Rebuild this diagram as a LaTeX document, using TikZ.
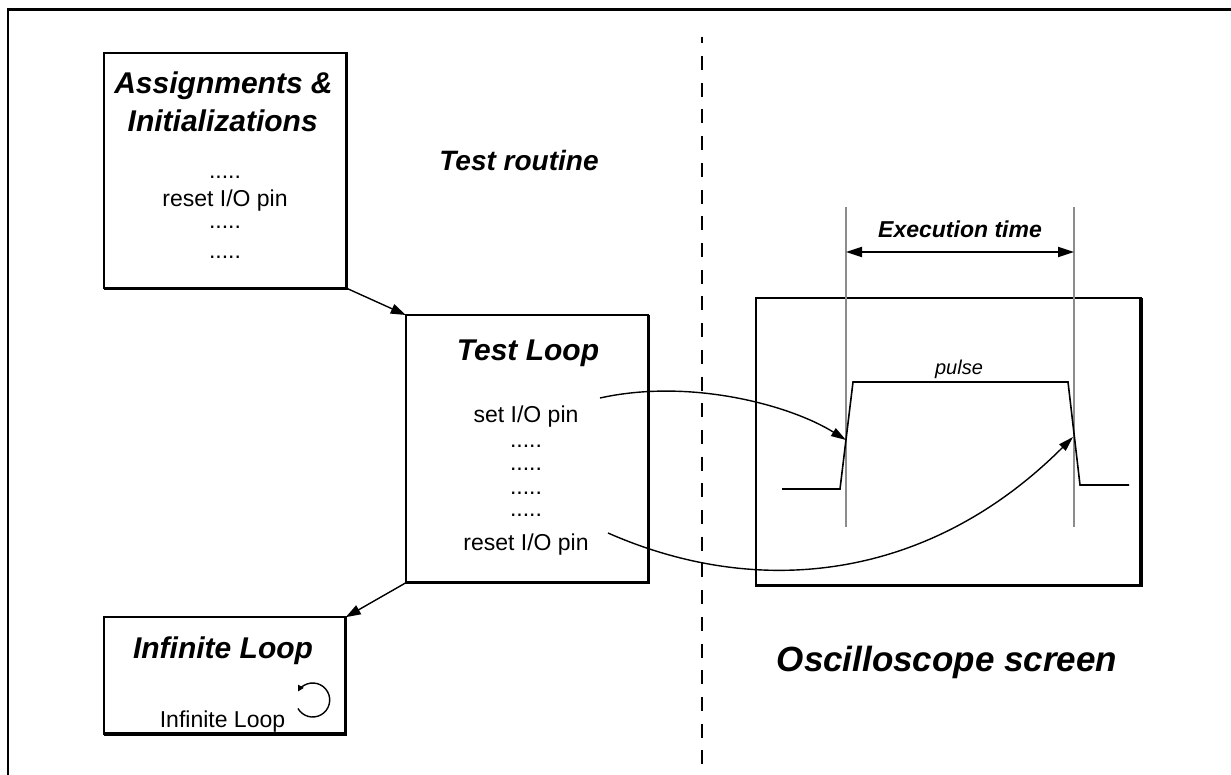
\documentclass[tikz,border=0pt]{standalone}
\usepackage{fontspec}
\setmainfont{Liberation Sans}
\usetikzlibrary{arrows.meta}
\begin{document}
\begin{tikzpicture}[x=1pt,y=-1pt,
  boxst/.style={draw, line width=2pt, inner sep=0pt, outer sep=0pt},
  shadowline/.style={line width=3.3pt},
  arr/.style={line width=1.4pt, -{Triangle[length=15pt,width=10pt]}},
  curvearr/.style={line width=1.4pt, -{Triangle[length=15pt,width=9pt]}},
  title/.style={anchor=base, inner sep=0pt, font=\fontsize{30}{36}\selectfont\bfseries\itshape},
  big/.style={anchor=base, inner sep=0pt, font=\fontsize{35}{42}\selectfont\bfseries\itshape},
  body/.style={anchor=base, inner sep=0pt, font=\fontsize{23}{27}\selectfont},
  guide/.style={draw=black!45, line width=1.3pt},
  pulsest/.style={line width=1.6pt, line join=miter},
  divider/.style={line width=2pt, dash pattern=on 14pt off 12.7pt, dash phase=7.3pt}
]
\useasboundingbox (0,0) rectangle (1231,775);
% outer frame
\draw[line width=2pt] (8,775) -- (8,9.5);
\draw[line width=3pt] (7,9.5) -- (1231,9.5);
% divider
\draw[divider] (702,36.7) -- (702,775);

% boxes
\node[boxst, minimum width=242.9pt, minimum height=235.3pt] (assign) at (225.25,170.65) {};
\node[boxst, minimum width=242.5pt, minimum height=267.8pt] (loop) at (527.05,448.9) {};
\node[boxst, minimum width=242.2pt, minimum height=116.8pt] (inf) at (224.6,675.6) {};
\node[boxst, minimum width=385pt, minimum height=287.8pt] (osc) at (948.5,441.9) {};
\foreach \b in {assign,loop,inf,osc}
  \draw[shadowline] (\b.north east) -- (\b.south east) -- (\b.south west);

% Assignments box text
\node[title] (t1) at (223.5,93.3) {Assignments \&};
\node[title] (t2) at (222.7,131.7) {Initializations};
\node[body] (a1) at (225,179) {.....};
\node[body] (a2) at (225,206.7) {reset I/O pin};
\node[body] (a3) at (225,229) {.....};
\node[body] (a4) at (225,259) {.....};

% Test loop text
\node[title] (t3) at (528,360) {Test Loop};
\node[body] (l1) at (526,422.7) {set I/O pin};
\node[body] (l2) at (526,447.3) {.....};
\node[body] (l3) at (526,470) {.....};
\node[body] (l4) at (526,494.3) {.....};
\node[body] (l5) at (526,516.7) {.....};
\node[body] (l6) at (526,550) {reset I/O pin};

% Infinite loop text
\node[title] (t4) at (223,658) {Infinite Loop};
\node[body] (i1) at (222.5,727.7) {Infinite Loop};
\coordinate (cc) at (312.7,700);
\draw[line width=1.4pt, -{Triangle[length=6pt,width=6pt]}] (cc) ++(150:17) arc[start angle=150, end angle=-150, radius=17];

% section labels
\node[big, font=\fontsize{28}{34}\selectfont\bfseries\itshape] (tr) at (519,171) {Test routine};
\node[big] (os) at (947,671) {Oscilloscope screen};

% oscilloscope content
\draw[guide] (846,207) -- (846,527);
\draw[guide] (1074,207) -- (1074,527);
\coordinate (el) at (846,252);
\coordinate (er) at (1074,252);
\draw[line width=2pt, {Triangle[length=16pt,width=10pt]}-{Triangle[length=16pt,width=10pt]}] (el) -- (er);
\node[anchor=base, inner sep=0pt, font=\fontsize{23}{28}\selectfont\bfseries\itshape] (et) at (960,238) {Execution time};
\node[anchor=base, inner sep=0pt, font=\fontsize{20}{24}\selectfont\itshape] (pl) at (959,374) {pulse};
\draw[pulsest] (782,489) -- (840,489) -- (853,382) -- (1068,382) -- (1080,485) -- (1129,485);

% connectors
\draw[arr] (assign.south east) -- (loop.north west);
\draw[arr] (loop.south west) -- (inf.north east);
\coordinate (setpin) at (600,398);
\coordinate (rise) at (846,440);
\coordinate (resetpin) at (608,533);
\coordinate (fall) at (1073,437);
\draw[curvearr] (setpin) .. controls (690,378) and (790,405) .. (rise);
\draw[curvearr] (resetpin) .. controls (760,600) and (930,580) .. (fall);
\end{tikzpicture}
\end{document}
